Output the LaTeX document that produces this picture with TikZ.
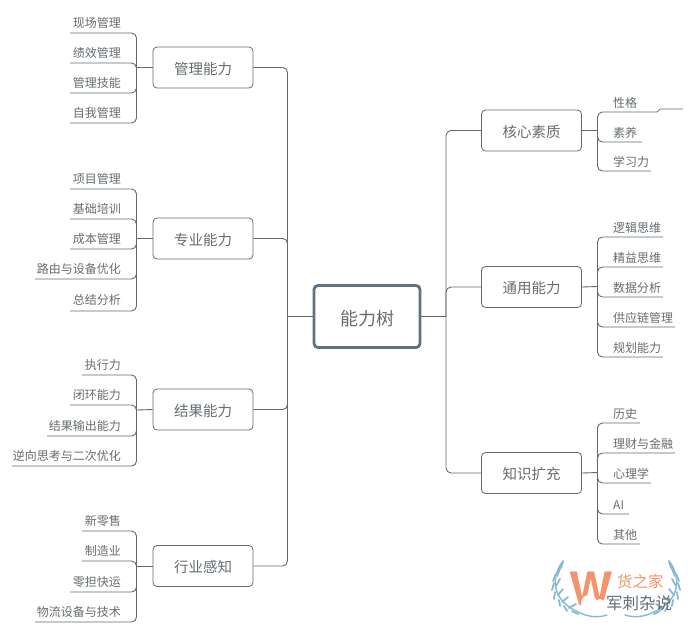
\documentclass[tikz,border=0pt]{standalone}
\usepackage{fontspec}
\setmainfont{Noto Sans CJK SC}
\newfontfamily\logofont{TeX Gyre Heros}
\usepackage{tikz}
\definecolor{linegray}{HTML}{5F6B70}
\definecolor{textgray}{HTML}{666C70}
\definecolor{rootblue}{HTML}{5F7282}
\definecolor{wreathblue}{HTML}{86B9D6}
\definecolor{logoorange}{HTML}{F2946C}
\tikzset{
  conn/.style={draw=linegray,line width=0.9pt,rounded corners=5pt},
  rootbox/.style={draw=rootblue,line width=2.8pt,rounded corners=4pt,minimum width=106pt,minimum height=62pt,text=textgray,text height=20pt,text depth=2.4pt,font=\fontsize{18}{20}\selectfont},
  branch/.style={draw=linegray,line width=0.8pt,rounded corners=4pt,minimum width=100pt,minimum height=41pt,text=textgray,text height=14.5pt,text depth=1.5pt,font=\fontsize{14.5}{16}\selectfont},
  leafl/.style={anchor=east,inner sep=0pt,text=textgray,font=\fontsize{12}{14}\selectfont},
  leafr/.style={anchor=west,inner sep=0pt,text=textgray,font=\fontsize{12}{14}\selectfont},
}
\begin{document}
\begin{tikzpicture}[x=1pt,y=-1pt]
  \useasboundingbox (0,0) rectangle (695,633);

  \node[rootbox] (root) at (367,316.5) {能力树};
  \node[branch] (guanli) at (203,67.5) {管理能力};
  \node[branch] (zhuanye) at (203,238.5) {专业能力};
  \node[branch] (jieguo) at (203,409.5) {结果能力};
  \node[branch] (hangye) at (203,566) {行业感知};
  \node[branch] (hexin) at (531.5,130.5) {核心素质};
  \node[branch] (tongyong) at (531.5,287) {通用能力};
  \node[branch] (zhishi) at (531.5,473) {知识扩充};

  % spines
  \coordinate (lspine) at (287.5,316.5);
  \coordinate (rspine) at (446,316.5);
  \draw[conn] (root.west) -- (lspine);
  \draw[conn] (root.east) -- (rspine);
  \draw[conn] (lspine) |- (guanli.east);
  \draw[conn] (lspine) |- (zhuanye.east);
  \draw[conn] (lspine) |- (jieguo.east);
  \draw[conn] (lspine) |- (hangye.east);
  \draw[conn] (rspine) |- (hexin.west);
  \draw[conn] (rspine) |- (tongyong.west);
  \draw[conn] (rspine) |- (zhishi.west);

  % buses of the leaves
  \coordinate (guanlibus) at (136.5,67.5);
  \coordinate (zhuanyebus) at (136.5,238.5);
  \coordinate (jieguobus) at (136.5,410);
  \coordinate (hangyebus) at (136.5,566);
  \coordinate (hexinbus) at (597.5,130.5);
  \coordinate (tongyongbus) at (597.5,286.5);
  \coordinate (zhishibus) at (597.5,472.5);
  \draw[conn] (guanli.west) -- (guanlibus);
  \draw[conn] (zhuanye.west) -- (zhuanyebus);
  \draw[conn] (jieguo.west) -- (jieguobus);
  \draw[conn] (hangye.west) -- (hangyebus);
  \draw[conn] (hexin.east) -- (hexinbus);
  \draw[conn] (tongyong.east) -- (tongyongbus);
  \draw[conn] (zhishi.east) -- (zhishibus);

  % left leaves: name / text / underline y / underline left end
  \foreach \nm/\bus/\txt/\uy/\ux in {
    xianchang/guanlibus/现场管理/33/70, jixiao/guanlibus/绩效管理/63/70, jineng/guanlibus/管理技能/93/70, ziwo/guanlibus/自我管理/123/70,
    xiangmu/zhuanyebus/项目管理/189/70, jichu/zhuanyebus/基础培训/219/70, chengben/zhuanyebus/成本管理/249/70, luyou/zhuanyebus/路由与设备优化/279/35,
    zhixing/jieguobus/执行力/375/82, bihuan/jieguobus/闭环能力/405/70, shuchu/jieguobus/结果输出能力/436/47, nixiang/jieguobus/逆向思考与二次优化/466/12,
    lingshou/hangyebus/新零售/531/82, zhizao/hangyebus/制造业/561/82, lingdan/hangyebus/零担快运/592/70, wuliu/hangyebus/物流设备与技术/622/35}
  {
    \node[leafl] (\nm) at (121,\uy-10) {\txt};
    \coordinate (\nm end) at (\ux,\uy);
    \draw[conn] (\bus) |- (\nm end);
  }
  \node[leafl] (zongjie) at (121,299.5) {总结分析};
  \coordinate (zongjieend) at (70,311);
  \draw[conn] (zhuanyebus) |- (zongjieend);

  % right leaves
  \foreach \nm/\bus/\txt/\uy/\ux in {
    suyang/hexinbus/素养/142/642, xuexi/hexinbus/学习力/171/651,
    luoji/tongyongbus/逻辑思维/237/663, jingyi/tongyongbus/精益思维/267/663, shuju/tongyongbus/数据分析/297/663, gongying/tongyongbus/供应链管理/327/675, guihua/tongyongbus/规划能力/357/663,
    lishi/zhishibus/历史/423/640, licai/zhishibus/理财与金融/453/675, xinli/zhishibus/心理学/483/651, ai/zhishibus/AI/514/629, qita/zhishibus/其他/544/640}
  {
    \node[leafr] (\nm) at (613,\uy-9) {\txt};
    \coordinate (\nm end) at (\ux,\uy);
    \draw[conn] (\bus) |- (\nm end);
  }
  \node[leafr] (xingge) at (613,103) {性格};
  \coordinate (xinggekink) at (657,112);
  \coordinate (xinggeend) at (683,109);
  \draw[conn] (hexinbus) |- (xinggekink);
  \draw[draw=linegray,line width=0.7pt] (xinggekink) -- ++(3,-3) -- (xinggeend);

  % watermark
  \foreach \s in {1,-1}{
    \begin{scope}[shift={(616,0)},xscale=\s,wreathblue,line width=1.8pt,line cap=round]
      \draw[line width=1.4pt] (-53,561) .. controls (-66,578) and (-64,600) .. (-38,612) .. controls (-28,617) and (-18,618) .. (-9,615);
      \foreach \lx/\ly/\dx/\dy in {-56/566/-2/6, -60/574/-3/7, -62/583/-2/7, -61/592/-1/7, -57/600/1/6, -52/606/3/5, -44/611/6/3,
        -55/568/2/-7, -59/576/3/-7, -60/586/4/-7, -58/595/5/-6, -54/602/6/-5, -47/608/7/-4}
        \draw (\lx,\ly) -- ++(\dx,\dy);
    \end{scope}
  }
  \node[anchor=center,inner sep=0pt,text=logoorange,font=\logofont\fontsize{46}{48}\selectfont\bfseries] (logow) at (591,589) {W};
  \node[anchor=west,inner sep=0pt,text=logoorange,font=\fontsize{15.5}{17}\selectfont] (logotext) at (617,582) {货之家};
  \fill[white] (589,603) circle (8pt);
  \fill[white] (600,604) circle (5pt);
  \node[anchor=west,inner sep=0pt,text=textgray,font=\fontsize{16.5}{18}\selectfont] (junci) at (606,603) {军刺杂说};
\end{tikzpicture}
\end{document}
